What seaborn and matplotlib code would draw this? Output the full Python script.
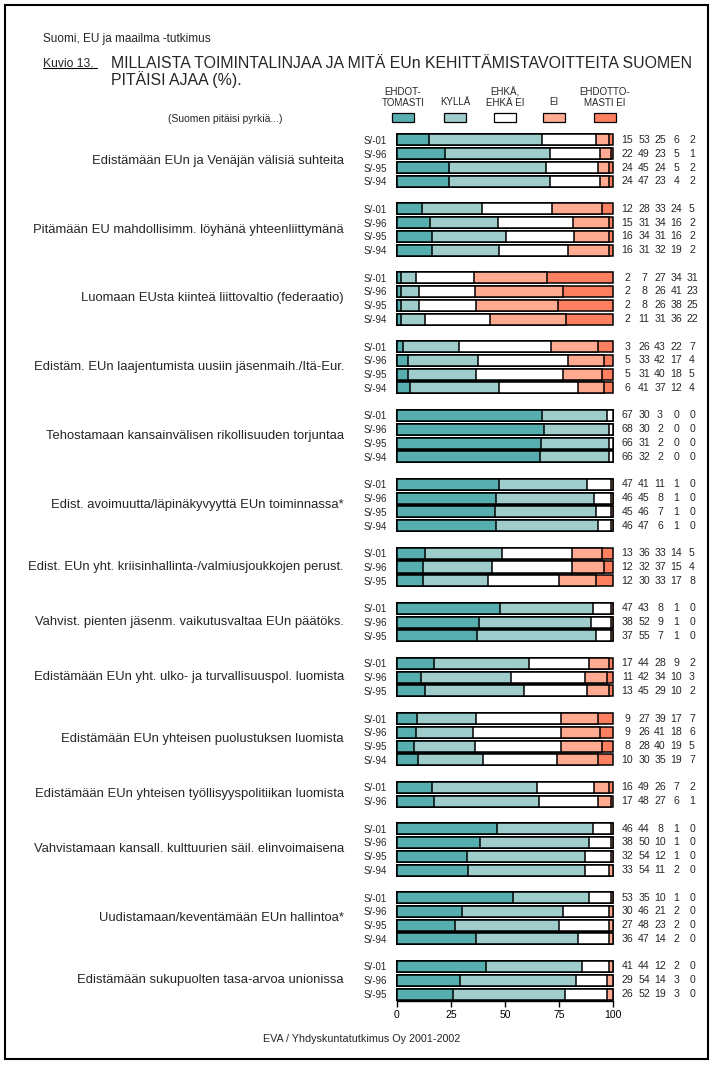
import matplotlib
matplotlib.use("Agg")
import numpy as np
import pandas as pd
import matplotlib.pyplot as plt
import seaborn as sns
from matplotlib import font_manager as fm
from matplotlib.patches import Rectangle
from matplotlib.lines import Line2D

# ---------------- data ----------------
categories = [
    "Edistämään EUn ja Venäjän välisiä suhteita",
    "Pitämään EU mahdollisimm. löyhänä yhteenliittymänä",
    "Luomaan EUsta kiinteä liittovaltio (federaatio)",
    "Edistäm. EUn laajentumista uusiin jäsenmaih./Itä-Eur.",
    "Tehostamaan kansainvälisen rikollisuuden torjuntaa",
    "Edist. avoimuutta/läpinäkyvyyttä EUn toiminnassa*",
    "Edist. EUn yht. kriisinhallinta-/valmiusjoukkojen perust.",
    "Vahvist. pienten jäsenm. vaikutusvaltaa EUn päätöks.",
    "Edistämään EUn yht. ulko- ja turvallisuuspol. luomista",
    "Edistämään EUn yhteisen puolustuksen luomista",
    "Edistämään EUn yhteisen työllisyyspolitiikan luomista",
    "Vahvistamaan kansall. kulttuurien säil. elinvoimaisena",
    "Uudistamaan/keventämään EUn hallintoa*",
    "Edistämään sukupuolten tasa-arvoa unionissa",
]
W4 = ["S/-01", "S/-96", "S/-95", "S/-94"]
W3 = ["S/-01", "S/-96", "S/-95"]
W2 = ["S/-01", "S/-96"]
waves = [W4, W4, W4, W4, W4, W4, W3, W3, W3, W4, W2, W4, W4, W3]

series_names = ["EHDOT-\nTOMASTI", "KYLLÄ", "EHKÄ,\nEHKÄ EI", "EI", "EHDOTTO-\nMASTI EI"]

ehdottomasti = [15, 22, 24, 24, 12, 15, 16, 16, 2, 2, 2, 2, 3, 5, 5, 6,
                67, 68, 66, 66, 47, 46, 45, 46, 13, 12, 12, 47, 38, 37,
                17, 11, 13, 9, 9, 8, 10, 16, 17, 46, 38, 32, 33,
                53, 30, 27, 36, 41, 29, 26]
kylla = [53, 49, 45, 47, 28, 31, 34, 31, 7, 8, 8, 11, 26, 33, 31, 41,
         30, 30, 31, 32, 41, 45, 46, 47, 36, 32, 30, 43, 52, 55,
         44, 42, 45, 27, 26, 28, 30, 49, 48, 44, 50, 54, 54,
         35, 46, 48, 47, 44, 54, 52]
ehka = [25, 23, 24, 23, 33, 34, 31, 32, 27, 26, 26, 31, 43, 42, 40, 37,
        3, 2, 2, 2, 11, 8, 7, 6, 33, 37, 33, 8, 9, 7,
        28, 34, 29, 39, 41, 40, 35, 26, 27, 8, 10, 12, 11,
        10, 21, 23, 14, 12, 14, 19]
ei = [6, 5, 5, 4, 24, 16, 16, 19, 34, 41, 38, 36, 22, 17, 18, 12,
      0, 0, 0, 0, 1, 1, 1, 1, 14, 15, 17, 1, 1, 1,
      9, 10, 10, 17, 18, 19, 19, 7, 6, 1, 1, 1, 2,
      1, 2, 2, 2, 2, 3, 3]
ehdottomasti_ei = [2, 1, 2, 2, 5, 2, 2, 2, 31, 23, 25, 22, 7, 4, 5, 4,
                   0, 0, 0, 0, 0, 0, 0, 0, 5, 4, 8, 0, 0, 0,
                   2, 3, 2, 7, 6, 5, 7, 2, 1, 0, 0, 0, 0,
                   0, 0, 0, 0, 0, 0, 0]

colors = ["#57AEAE", "#9ECDCB", "#FFFFFF", "#FFAA91", "#FF8060"]

# ---------------- fonts ----------------
sns.set_theme(style="white")
avail = {f.name for f in fm.fontManager.ttflist}
NARROW = "Liberation Sans Narrow" in avail
REG = "Liberation Sans"
NAR = "Liberation Sans Narrow" if NARROW else "Liberation Sans"
k = 1.0 if NARROW else 0.83
plt.rcParams["font.family"] = [REG, "DejaVu Sans"]

# ---------------- table ----------------
rows = []
pos = 0
group_mid = []
for g, (cat, wl) in enumerate(zip(categories, waves)):
    start = pos
    for w in wl:
        rows.append((pos, w, g))
        pos += 1
    group_mid.append((start + pos - 1) / 2)
    pos += 1
df = pd.DataFrame(rows, columns=["pos", "wave", "group"])
vals = np.array([ehdottomasti, kylla, ehka, ei, ehdottomasti_ei], dtype=float).T
df[["s1", "s2", "s3", "s4", "s5"]] = vals
tot = vals.sum(axis=1, keepdims=True)
cum = np.cumsum(vals / tot * 100, axis=1)
for i in range(5):
    df[f"c{i+1}"] = cum[:, i]

W, H = 714, 1065
fig = plt.figure(figsize=(W / 100, H / 100), dpi=100)
fig.patch.set_facecolor("white")

def fx(px):
    return px / W

def fy(py):
    return 1 - py / H

ax_l, ax_r, ax_t, ax_b = 397, 613, 131.7, 1000.5
ax = fig.add_axes([fx(ax_l), fy(ax_b), (ax_r - ax_l) / W, (ax_b - ax_t) / H])

for i in range(4, -1, -1):
    sns.barplot(data=df, x=f"c{i+1}", y="pos", orient="h", native_scale=True,
                color=colors[i], saturation=1, edgecolor="black", linewidth=1.1,
                errorbar=None, width=0.8, ax=ax)
for p in ax.patches:
    p.set_clip_on(False)

ax.set_xlim(0, 100)
ax.set_ylim(df["pos"].max() + 0.47, -0.6)
ax.set_xlabel("")
ax.set_ylabel("")
ax.set_xticks([0, 25, 50, 75, 100])
ax.set_xticklabels(["0", "25", "50", "75", "100"], family=NAR, fontsize=9 * k)
ax.set_yticks(df["pos"].tolist())
ax.set_yticklabels(df["wave"].tolist(), fontsize=7, family=REG)
ax.tick_params(axis="y", length=0, pad=7)
ax.tick_params(axis="x", length=4, width=1, direction="out", pad=2.5, colors="black", bottom=True)
ax.grid(False)
for s in ["left", "top", "right"]:
    ax.spines[s].set_visible(False)
ax.spines["bottom"].set_color("black")
ax.spines["bottom"].set_linewidth(1)
ax.set_facecolor("none")

# group labels
gx = (344 - ax_l) / (ax_r - ax_l) * 100
for cat, ym in zip(categories, group_mid):
    ax.text(gx, ym, cat, ha="right", va="center", fontsize=9.4, family=REG, clip_on=False)

# number columns
col_px = [627.5, 644, 660, 676.5, 692]
col_x = [(c - ax_l) / (ax_r - ax_l) * 100 for c in col_px]
for _, r in df.iterrows():
    for j in range(5):
        ax.text(col_x[j], r["pos"], f"{int(r[f's{j+1}'])}", ha="center", va="center",
                fontsize=7.6, family=REG, clip_on=False)

# titles
fig.text(fx(43), fy(41.7), "Suomi, EU ja maailma -tutkimus", family=NAR, fontsize=10.2 * k,
         ha="left", va="baseline")
fig.text(fx(43), fy(66.7), "Kuvio 13.", family=NAR, fontsize=10.5 * k, ha="left", va="baseline")
fig.add_artist(Line2D([fx(43), fx(97)], [fy(68.3), fy(68.3)], color="black", lw=0.8,
                      transform=fig.transFigure))
fig.text(fx(111), fy(67.7), "MILLAISTA TOIMINTALINJAA JA MITÄ EUn KEHITTÄMISTAVOITTEITA SUOMEN",
         family=NAR, fontsize=13.8 * k, ha="left", va="baseline")
fig.text(fx(111), fy(85), "PITÄISI AJAA (%).", family=NAR, fontsize=13.8 * k, ha="left",
         va="baseline")
fig.text(fx(225), fy(119), "(Suomen pitäisi pyrkiä...)", family=NAR, fontsize=9 * k,
         ha="center", va="center")

# legend
leg_x = [403, 455, 505, 554, 605]
for name, c, lx in zip(series_names, colors, leg_x):
    ly = 97.5 if "\n" in name else 102
    fig.text(fx(lx), fy(ly), name, family=NAR, fontsize=8.5 * k, ha="center", va="center",
             linespacing=1.1)
    fig.add_artist(Rectangle((fx(lx - 11), fy(122)), 22 / W, 8.5 / H, transform=fig.transFigure,
                             facecolor=c, edgecolor="black", lw=0.9))

fig.text(fx(362), fy(1039), "EVA / Yhdyskuntatutkimus Oy 2001-2002", family=NAR,
         fontsize=9.3 * k, ha="center", va="center")

fig.add_artist(Rectangle((fx(5), fy(1059)), 703 / W, 1054 / H, transform=fig.transFigure,
                         fill=False, edgecolor="black", lw=1.5))

fig.savefig("out.png", dpi=100, facecolor="white")
